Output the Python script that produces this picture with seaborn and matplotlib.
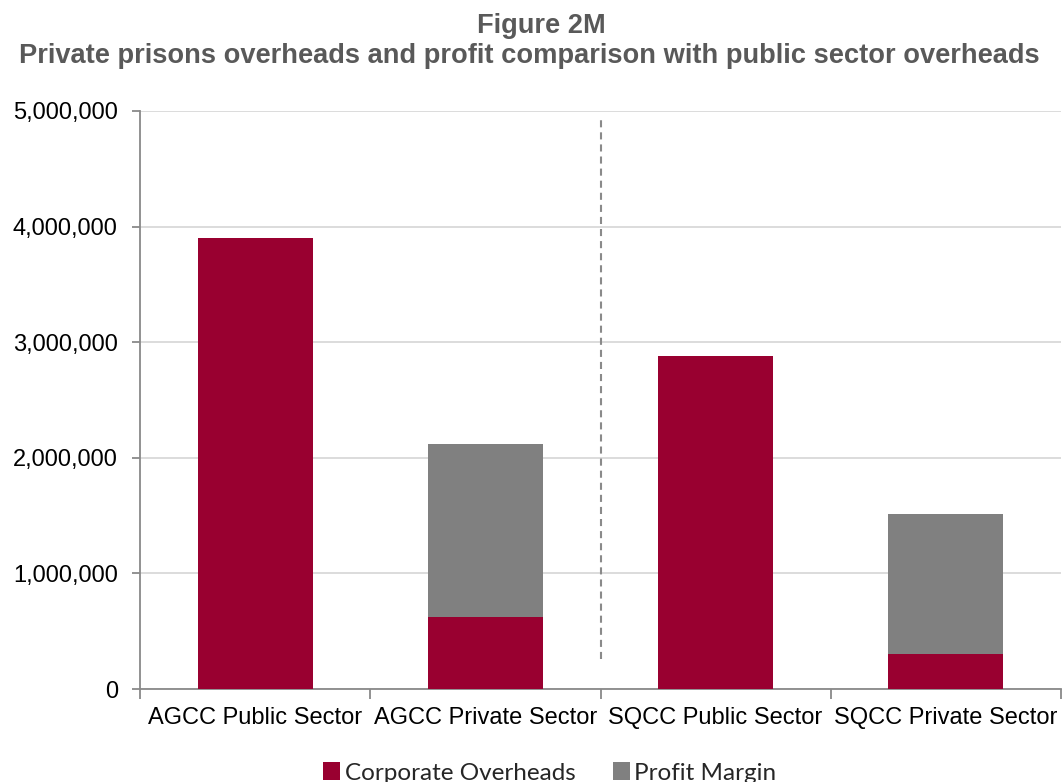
import matplotlib
matplotlib.use("Agg")
import matplotlib.pyplot as plt
from matplotlib.ticker import FuncFormatter, FixedLocator
from matplotlib.patches import Patch
import seaborn as sns
import pandas as pd

# Data
categories = ["AGCC Public Sector", "AGCC Private Sector", "SQCC Public Sector", "SQCC Private Sector"]
corporate_overheads = [3900000, 620000, 2880000, 300000]
profit_margin = [0, 1497000, 0, 1213000]

RED = "#990030"
GREY = "#808080"

df = pd.DataFrame({
    "category": categories,
    "overheads": corporate_overheads,
    "profit": profit_margin,
})
df["total"] = df["overheads"] + df["profit"]

sns.set_theme(style="white")
plt.rcParams["font.family"] = ["Liberation Sans", "DejaVu Sans"]

fig = plt.figure(figsize=(10.63, 7.82), dpi=100)
ax = fig.add_axes([140 / 1063, 1 - 689 / 782, (1061 - 140) / 1063, (689 - 111) / 782])

# Stacked bars: total height in grey, overheads drawn over it in red
sns.barplot(data=df, x="category", y="total", color=GREY, width=0.5,
            saturation=1, linewidth=0, edgecolor="none", ax=ax, zorder=3)
sns.barplot(data=df, x="category", y="overheads", color=RED, width=0.5,
            saturation=1, linewidth=0, edgecolor="none", ax=ax, zorder=4)

ax.set_xlim(-0.5, 3.5)
ax.set_ylim(0, 5000000)
ax.set_yticks(range(0, 5000001, 1000000))
ax.yaxis.set_major_formatter(FuncFormatter(lambda v, p: f"{int(v):,}"))
ax.set_xlabel("")
ax.set_ylabel("")

# Horizontal gridlines
ax.yaxis.grid(True, color="#d9d9d9", linewidth=1.3, zorder=0)
ax.xaxis.grid(False)

# Spines
for side in ["top", "right"]:
    ax.spines[side].set_visible(False)
for side in ["left", "bottom"]:
    ax.spines[side].set_color("#898989")
    ax.spines[side].set_linewidth(1.3)

# Tick styling: category boundary ticks on the x axis
ax.tick_params(axis="x", which="major", length=0, labelsize=17, pad=13, colors="#000000")
ax.xaxis.set_minor_locator(FixedLocator([-0.5, 0.5, 1.5, 2.5, 3.5]))
ax.tick_params(axis="x", which="minor", length=7, width=1.3, color="#898989", bottom=True)
ax.tick_params(axis="y", which="major", length=6, width=1.3,
               labelsize=17, pad=10, left=True, labelcolor="#000000", color="#898989")

# Dashed divider between the two prisons
ax.plot([1.5, 1.5], [260000, 4920000], linestyle=(0, (3.4, 2.4)), color="#8a8a8a",
        linewidth=1.5, zorder=5)

# Titles
fig.text(541 / 1063, 1 - 33 / 782, "Figure 2M", ha="center", va="baseline",
         fontsize=19.6, fontweight="bold", color="#595959")
fig.text(529 / 1063, 1 - 63 / 782,
         "Private prisons overheads and profit comparison with public sector overheads",
         ha="center", va="baseline", fontsize=19.6, fontweight="bold", color="#595959")

# Legend
handles = [Patch(facecolor=RED, edgecolor="none", label="Corporate Overheads"),
           Patch(facecolor=GREY, edgecolor="none", label="Profit Margin")]
fig.legend(handles=handles, loc="center", bbox_to_anchor=(550 / 1063, 1 - 773 / 782),
           ncol=2, frameon=False, handlelength=0.7, handleheight=0.7,
           handletextpad=0.2, columnspacing=1.5, borderpad=0,
           prop={"family": ["Lato", "DejaVu Sans"], "size": 17.5})

fig.savefig("out.png", dpi=100)
